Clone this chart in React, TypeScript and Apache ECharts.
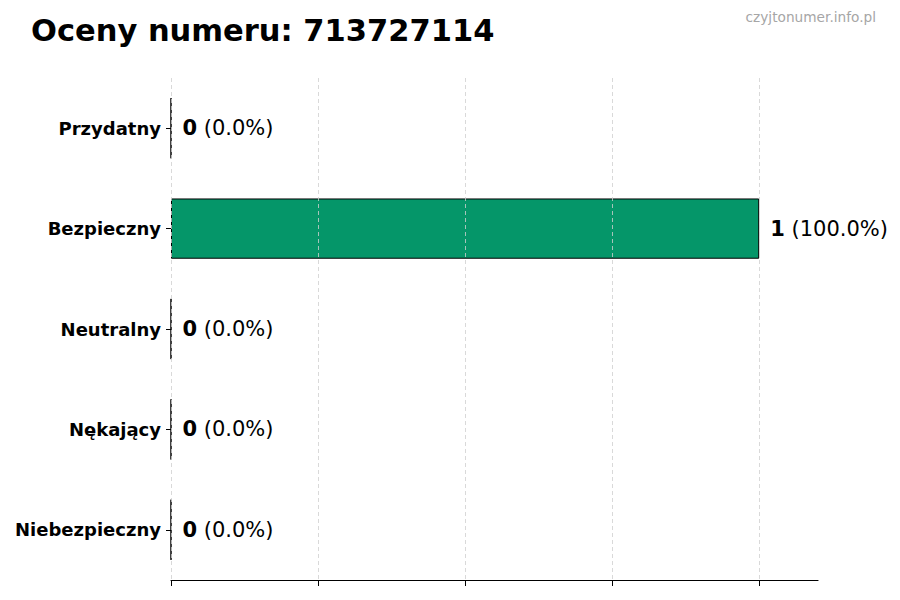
import React, { useEffect, useRef } from 'react';
import * as echarts from 'echarts';

// kategorie ocen (od góry do dołu)
const categories = ['Przydatny', 'Bezpieczny', 'Neutralny', 'Nękający', 'Niebezpieczny'];
// liczba ocen w każdej kategorii
const counts = [0, 1, 0, 0, 0];
// pozycje linii siatki / znaczników osi X
const xTicks = [0, 0.25, 0.5, 0.75, 1];

const FONT = 'DejaVu Sans';

const App: React.FC = () => {
  const chartRef = useRef<HTMLDivElement>(null);

  useEffect(() => {
    if (!chartRef.current) return;
    const chart = echarts.init(chartRef.current, undefined, { renderer: 'svg' });
    const total = counts.reduce((a, b) => a + b, 0);

    const option = {
      animation: false,
      backgroundColor: '#ffffff',
      textStyle: { fontFamily: FONT },
      title: [
        {
          text: 'Oceny numeru: 713727114',
          left: 31,
          top: 15,
          padding: 0,
          textStyle: { fontFamily: FONT, fontSize: 30.5, fontWeight: 'bold', color: '#000' },
        },
        {
          text: 'czyjtonumer.info.pl',
          right: 24,
          top: 10,
          padding: 0,
          textStyle: { fontFamily: FONT, fontSize: 13.7, fontWeight: 'normal', color: '#a6a6a6' },
        },
      ],
      grid: { left: 171, right: 82, top: 78, height: 502 },
      xAxis: {
        type: 'value',
        min: 0,
        max: 1.1,
        interval: 0.25,
        axisLine: { show: true, lineStyle: { color: '#000', width: 1.2 } },
        axisTick: { show: true, length: 6, customValues: xTicks, lineStyle: { color: '#000', width: 1 } },
        axisLabel: { show: false },
        splitLine: { show: false },
      },
      yAxis: {
        type: 'category',
        data: categories,
        inverse: true,
        axisLine: { show: false },
        axisTick: { show: true, alignWithLabel: true, length: 5, lineStyle: { color: '#000' } },
        axisLabel: { fontFamily: FONT, fontSize: 18, fontWeight: 'bold', color: '#000', margin: 10 },
        splitLine: { show: false },
      },
      series: [
        {
          type: 'bar',
          data: counts,
          barWidth: '60%',
          itemStyle: { color: '#059669', borderColor: '#000', borderWidth: 1 },
          label: {
            show: true,
            position: 'right',
            distance: 11,
            formatter: (p: any) => {
              const pct = total ? ((p.value / total) * 100).toFixed(1) : '0.0';
              return `{b|${p.value}}{n| (${pct}%)}`;
            },
            rich: {
              b: { fontFamily: FONT, fontSize: 21, fontWeight: 'bold', color: '#000' },
              n: { fontFamily: FONT, fontSize: 21, color: '#000' },
            },
          },
          markLine: {
            silent: true,
            symbol: 'none',
            z: 10,
            label: { show: false },
            lineStyle: { type: [4, 3], color: '#cfcfcf', width: 0.8 },
            data: xTicks.map(v => ({ xAxis: v })),
          },
        },
      ],
    };

    chart.setOption(option);
    return () => chart.dispose();
  }, []);

  return (
    <div
      ref={chartRef}
      style={{ position: 'absolute', left: 0, top: 0, width: 900, height: 600 }}
    />
  );
};

export default App;
